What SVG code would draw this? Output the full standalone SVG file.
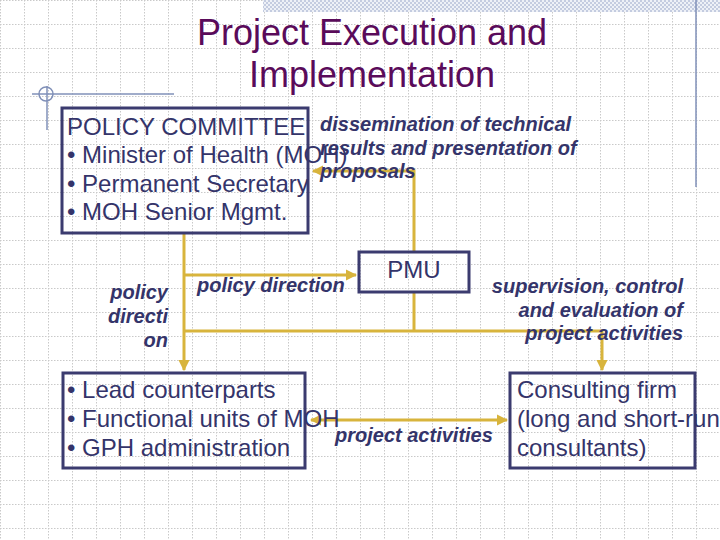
<svg xmlns="http://www.w3.org/2000/svg" width="720" height="540" viewBox="0 0 720 540">
<defs>
<pattern id="grid" width="24" height="24" patternUnits="userSpaceOnUse">
<path d="M0 0.5H24M0.5 0V24" stroke="#c9c9c9" stroke-width="1" stroke-dasharray="1.5 1.5" fill="none"/>
</pattern>
<pattern id="check" width="4" height="4" patternUnits="userSpaceOnUse">
<rect width="4" height="4" fill="#eef1f7"/>
<rect width="2" height="2" fill="#c4cce0"/>
<rect x="2" y="2" width="2" height="2" fill="#c4cce0"/>
</pattern>
<marker id="ah" viewBox="0 0 10 10" refX="9" refY="5" markerWidth="3.8" markerHeight="3.8" orient="auto-start-reverse" markerUnits="strokeWidth">
<path d="M0 0L10 5L0 10z" fill="#d8b43c"/>
</marker>
</defs>
<style>
.box{fill:none;stroke:#3b3b6f;stroke-width:3}
.t{font-family:"Liberation Sans",Arial,sans-serif;fill:#34346a;font-size:24px}
.lab{font-family:"Liberation Sans",Arial,sans-serif;fill:#34346a;font-size:20px;font-weight:bold;font-style:italic}
.title{font-family:"Liberation Sans",Arial,sans-serif;fill:#5a0b5a;font-size:36px}
.c{fill:none;stroke:#d8b43c;stroke-width:3}
.deco{fill:none;stroke:#8090b8;stroke-width:1.5}
</style>
<rect width="720" height="540" fill="#ffffff"/>
<rect width="720" height="540" fill="url(#grid)"/>
<rect x="263" y="0" width="457" height="12" fill="url(#check)"/>
<g id="decoration">
<line class="deco" x1="696" y1="0" x2="696" y2="187"/>
<line class="deco" x1="32" y1="94" x2="174" y2="94"/>
<line class="deco" x1="47" y1="86" x2="47" y2="130"/>
<circle class="deco" cx="46" cy="94" r="7"/>
</g>
<g id="title">
<text class="title" x="372" y="45" text-anchor="middle">Project Execution and</text>
<text class="title" x="372" y="87" text-anchor="middle">Implementation</text>
</g>
<g id="connectors">
<path class="c" d="M414 252V171H313" marker-end="url(#ah)"/>
<path class="c" d="M184 233V370" marker-end="url(#ah)"/>
<path class="c" d="M184 275H356" marker-end="url(#ah)"/>
<path class="c" d="M414 292V331"/>
<path class="c" d="M184 331H602V370" marker-end="url(#ah)"/>
<path class="c" d="M311 420H507" marker-start="url(#ah)" marker-end="url(#ah)"/>
</g>
<g id="policy-committee">
<rect class="box" x="62" y="108" width="246" height="125"/>
<text class="t" x="67" y="135">POLICY COMMITTEE</text>
<text class="t" x="67" y="163">• Minister of Health (MOH)</text>
<text class="t" x="67" y="192">• Permanent Secretary</text>
<text class="t" x="67" y="220">• MOH Senior Mgmt.</text>
</g>
<g id="pmu">
<rect class="box" x="359" y="252" width="110" height="40"/>
<text class="t" x="414" y="278" text-anchor="middle">PMU</text>
</g>
<g id="counterparts">
<rect class="box" x="63" y="373" width="242" height="95"/>
<text class="t" x="67" y="398">• Lead counterparts</text>
<text class="t" x="67" y="427">• Functional units of MOH</text>
<text class="t" x="67" y="456">• GPH administration</text>
</g>
<g id="consulting">
<rect class="box" x="510" y="373" width="185" height="95"/>
<text class="t" x="517" y="398">Consulting firm</text>
<text class="t" x="517" y="427">(long and short-run</text>
<text class="t" x="517" y="456">consultants)</text>
</g>
<g id="labels">
<text class="lab" x="320" y="131">dissemination of technical</text>
<text class="lab" x="320" y="155">results and presentation of</text>
<text class="lab" x="320" y="178">proposals</text>
<text class="lab" x="197" y="292">policy direction</text>
<text class="lab" x="168" y="299" text-anchor="end">policy</text>
<text class="lab" x="168" y="323" text-anchor="end">directi</text>
<text class="lab" x="168" y="347" text-anchor="end">on</text>
<text class="lab" x="683" y="293" text-anchor="end">supervision, control</text>
<text class="lab" x="683" y="317" text-anchor="end">and evaluation of</text>
<text class="lab" x="683" y="340" text-anchor="end">project activities</text>
<text class="lab" x="335" y="442">project activities</text>
</g>
</svg>
